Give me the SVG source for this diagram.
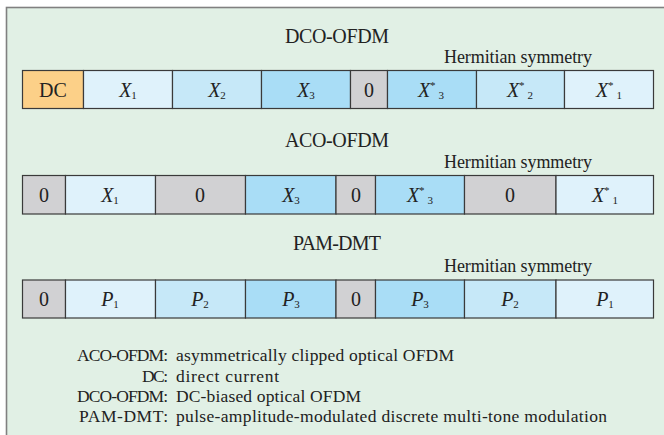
<svg xmlns="http://www.w3.org/2000/svg" width="664" height="435" viewBox="0 0 664 435">
<style>
  .frame{fill:#E1F0E5;stroke:#808080;stroke-width:1.6}
  .c{stroke:#3a3a3a;stroke-width:1.2}
  .dc{fill:#FCD088}.l{fill:#DFF2FB}.m{fill:#C6E8F8}.d{fill:#A9DDF6}.g{fill:#D1D1D3}
  text{font-family:"Liberation Serif","DejaVu Serif",serif;fill:#222}
  .t{font-size:20px;text-anchor:middle}
  .h{font-size:18px}
  .v{font-size:20px;text-anchor:middle}
  .i{font-style:italic}
  .s{font-size:11px}
  .lg{font-size:17.5px}
  .lgk{font-size:17.5px;text-anchor:end}
</style>
<rect class="frame" x="6.5" y="7.5" width="670" height="440"/>

<g id="dco">
  <text class="t" x="337" y="43" textLength="104">DCO-OFDM</text>
  <text class="h" x="444" y="63" textLength="148">Hermitian symmetry</text>
  <g id="dco-dc"><rect class="c dc" x="22.5" y="70.5" width="61" height="38"/><text class="v" x="53" y="96.5">DC</text></g>
  <g id="dco-x1"><rect class="c l" x="83.5" y="70.5" width="89" height="38"/><text class="v" x="128" y="96.5"><tspan class="i">X</tspan><tspan class="s" dy="2">1</tspan></text></g>
  <g id="dco-x2"><rect class="c m" x="172.5" y="70.5" width="89" height="38"/><text class="v" x="217" y="96.5"><tspan class="i">X</tspan><tspan class="s" dy="2">2</tspan></text></g>
  <g id="dco-x3"><rect class="c d" x="261.5" y="70.5" width="89" height="38"/><text class="v" x="306" y="96.5"><tspan class="i">X</tspan><tspan class="s" dy="2">3</tspan></text></g>
  <g id="dco-0"><rect class="c g" x="350.5" y="70.5" width="37" height="38"/><text class="v" x="369" y="96.5">0</text></g>
  <g id="dco-x3c"><rect class="c d" x="387.5" y="70.5" width="89" height="38"/><text class="v" x="431" y="96.5"><tspan class="i">X</tspan><tspan class="s" dy="-8">*</tspan><tspan class="s" dx="3" dy="10">3</tspan></text></g>
  <g id="dco-x2c"><rect class="c m" x="476.5" y="70.5" width="88" height="38"/><text class="v" x="520" y="96.5"><tspan class="i">X</tspan><tspan class="s" dy="-8">*</tspan><tspan class="s" dx="3" dy="10">2</tspan></text></g>
  <g id="dco-x1c"><rect class="c l" x="564.5" y="70.5" width="89" height="38"/><text class="v" x="609" y="96.5"><tspan class="i">X</tspan><tspan class="s" dy="-8">*</tspan><tspan class="s" dx="3" dy="10">1</tspan></text></g>
</g>

<g id="aco">
  <text class="t" x="337" y="147" textLength="104">ACO-OFDM</text>
  <text class="h" x="444" y="168" textLength="148">Hermitian symmetry</text>
  <g id="aco-0a"><rect class="c g" x="22.5" y="175.5" width="43" height="38.5"/><text class="v" x="44" y="201.5">0</text></g>
  <g id="aco-x1"><rect class="c l" x="65.5" y="175.5" width="90" height="38.5"/><text class="v" x="110" y="201.5"><tspan class="i">X</tspan><tspan class="s" dy="2">1</tspan></text></g>
  <g id="aco-0b"><rect class="c g" x="155.5" y="175.5" width="90" height="38.5"/><text class="v" x="200" y="201.5">0</text></g>
  <g id="aco-x3"><rect class="c d" x="245.5" y="175.5" width="90.5" height="38.5"/><text class="v" x="291" y="201.5"><tspan class="i">X</tspan><tspan class="s" dy="2">3</tspan></text></g>
  <g id="aco-0c"><rect class="c g" x="336" y="175.5" width="39.5" height="38.5"/><text class="v" x="356" y="201.5">0</text></g>
  <g id="aco-x3c"><rect class="c d" x="375.5" y="175.5" width="89" height="38.5"/><text class="v" x="420" y="201.5"><tspan class="i">X</tspan><tspan class="s" dy="-8">*</tspan><tspan class="s" dx="3" dy="10">3</tspan></text></g>
  <g id="aco-0d"><rect class="c g" x="464.5" y="175.5" width="91.5" height="38.5"/><text class="v" x="510" y="201.5">0</text></g>
  <g id="aco-x1c"><rect class="c l" x="556" y="175.5" width="97.5" height="38.5"/><text class="v" x="605" y="201.5"><tspan class="i">X</tspan><tspan class="s" dy="-8">*</tspan><tspan class="s" dx="3" dy="10">1</tspan></text></g>
</g>

<g id="pam">
  <text class="t" x="337" y="250" textLength="88">PAM-DMT</text>
  <text class="h" x="444" y="272" textLength="148">Hermitian symmetry</text>
  <g id="pam-0a"><rect class="c g" x="22.5" y="280" width="43" height="38"/><text class="v" x="44" y="306">0</text></g>
  <g id="pam-p1"><rect class="c l" x="65.5" y="280" width="90" height="38"/><text class="v" x="110" y="306"><tspan class="i">P</tspan><tspan class="s" dy="2">1</tspan></text></g>
  <g id="pam-p2"><rect class="c m" x="155.5" y="280" width="90" height="38"/><text class="v" x="200" y="306"><tspan class="i">P</tspan><tspan class="s" dy="2">2</tspan></text></g>
  <g id="pam-p3"><rect class="c d" x="245.5" y="280" width="90.5" height="38"/><text class="v" x="291" y="306"><tspan class="i">P</tspan><tspan class="s" dy="2">3</tspan></text></g>
  <g id="pam-0b"><rect class="c g" x="336" y="280" width="39.5" height="38"/><text class="v" x="356" y="306">0</text></g>
  <g id="pam-p3c"><rect class="c d" x="375.5" y="280" width="89" height="38"/><text class="v" x="420" y="306"><tspan class="i">P</tspan><tspan class="s" dy="2">3</tspan></text></g>
  <g id="pam-p2c"><rect class="c m" x="464.5" y="280" width="91.5" height="38"/><text class="v" x="510" y="306"><tspan class="i">P</tspan><tspan class="s" dy="2">2</tspan></text></g>
  <g id="pam-p1c"><rect class="c l" x="556" y="280" width="97.5" height="38"/><text class="v" x="605" y="306"><tspan class="i">P</tspan><tspan class="s" dy="2">1</tspan></text></g>
</g>

<g id="legend">
  <text class="lgk" x="168" y="361" textLength="91">ACO-OFDM:</text>
  <text class="lg" x="176" y="361" textLength="278">asymmetrically clipped optical OFDM</text>
  <text class="lgk" x="168" y="382" textLength="26">DC:</text>
  <text class="lg" x="176" y="382" textLength="103">direct current</text>
  <text class="lgk" x="168" y="402" textLength="91">DCO-OFDM:</text>
  <text class="lg" x="176" y="402" textLength="185">DC-biased optical OFDM</text>
  <text class="lgk" x="168" y="422" textLength="89">PAM-DMT:</text>
  <text class="lg" x="176" y="422" textLength="431">pulse-amplitude-modulated discrete multi-tone modulation</text>
</g>
</svg>
